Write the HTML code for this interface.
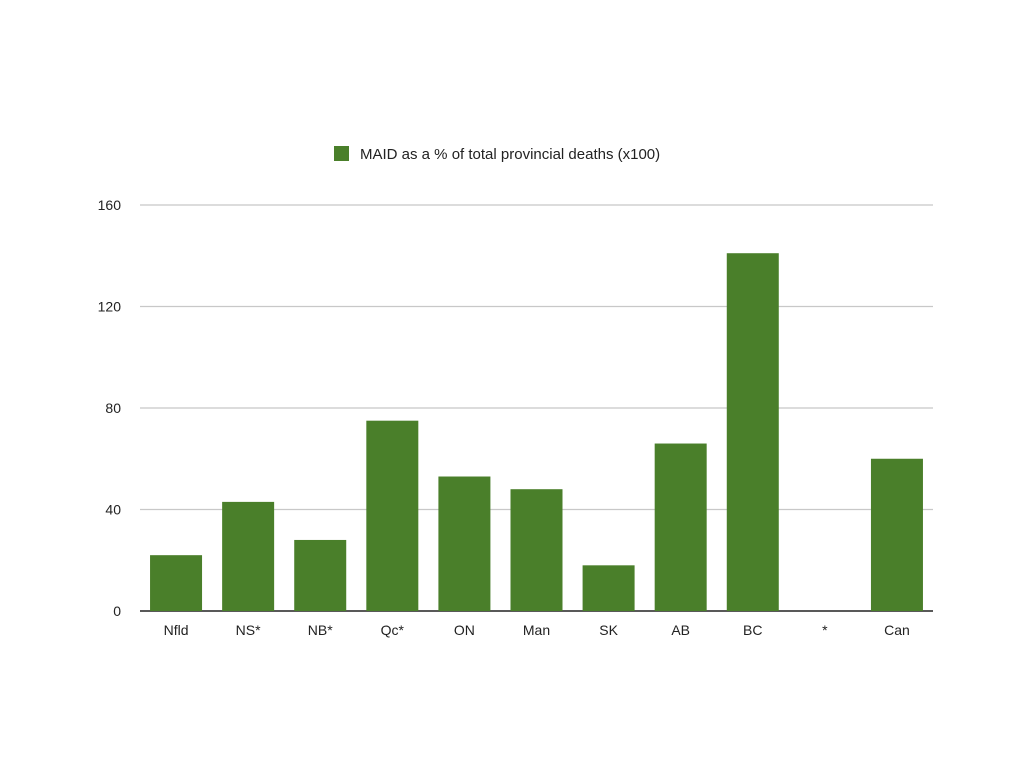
<!DOCTYPE html>
<html><head><meta charset="utf-8"><style>
html,body{margin:0;padding:0;background:#fff;}
svg{display:block;font-family:"Liberation Sans",Arial,sans-serif;}
</style></head><body>
<svg id="chart" width="1024" height="768" viewBox="0 0 1024 768">
<g>
<rect x="334" y="146" width="15" height="15" fill="#4a7f2a"/>
<text x="360" y="159" font-size="15" fill="#222">MAID as a % of total provincial deaths (x100)</text>
</g>
<g id="grid"></g><g id="bars"></g><g id="xlabels"></g>
</svg>
<script>
const categories=["Nfld","NS*","NB*","Qc*","ON","Man","SK","AB","BC","*","Can"];
const values=[22,43,28,75,53,48,18,66,141,0,60];
const yTicks=[0,40,80,120,160];
const ns="http://www.w3.org/2000/svg";
const x0=140,x1=933,y0=611,yTop=205,yMax=160;
const band=(x1-x0)/categories.length,barW=52;
const y=v=>y0-(v/yMax)*(y0-yTop);
const xc=i=>x0+band*(i+0.5);
const grid=document.getElementById('grid'),bars=document.getElementById('bars'),xl=document.getElementById('xlabels');
function mk(t,a){const e=document.createElementNS(ns,t);for(const k in a)e.setAttribute(k,a[k]);return e;}
yTicks.forEach(t=>{
 const l=mk('line',{x1:x0,x2:x1,y1:y(t),y2:y(t),stroke:t===0?'#222':'#c8c8c8','stroke-width':t===0?1.5:1.2});
 
 
 grid.appendChild(l);
 const tx=mk('text',{x:121,y:y(t)+5,'font-size':14,fill:'#222','text-anchor':'end'});
 tx.textContent=t;
 
 
 grid.appendChild(tx);
});
categories.forEach((c,i)=>{
 const v=values[i];
 const r=mk('rect',{x:xc(i)-barW/2,y:y(v),width:barW,height:y0-y(v),fill:'#4a7f2a'});
 
 
 bars.appendChild(r);
 const t=mk('text',{x:xc(i),y:635,'font-size':14,fill:'#222','text-anchor':'middle'});
 t.textContent=c;
 
 
 xl.appendChild(t);
});
</script>
</body></html>
